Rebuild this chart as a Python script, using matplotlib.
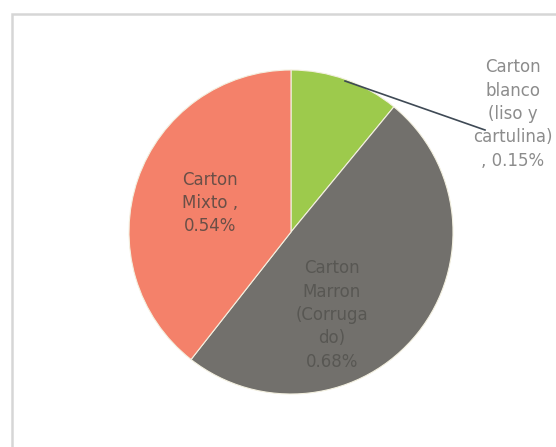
import matplotlib
matplotlib.use("Agg")
import matplotlib.pyplot as plt
from matplotlib.patches import Rectangle

categories = ["Carton\nblanco\n(liso y\ncartulina)\n, 0.15%",
              "Carton\nMarron\n(Corruga\ndo)\n0.68%",
              "Carton\nMixto ,\n0.54%"]
values = [0.15, 0.68, 0.54]
colors = ["#9dca4c", "#72706c", "#f4816a"]

W, H = 556, 447
fig = plt.figure(figsize=(W / 100, H / 100), dpi=100)
ax = fig.add_axes([0, 0, 1, 1])

# frame
ax.add_patch(Rectangle((12, -10), W, H - 14 + 10, fill=False,
                       edgecolor="#d6d6d6", linewidth=1.8))

cx, cy, r = 291, H - 232, 162
wedges, _ = ax.pie(values, colors=colors, startangle=90, counterclock=False,
                   center=(cx, cy), radius=r, frame=True,
                   wedgeprops=dict(edgecolor="#f3f0e0", linewidth=0.8))
ax.set_xlim(0, W)
ax.set_ylim(0, H)
ax.axis("off")
ax.set_aspect("equal")

font = dict(family=["DejaVu Sans"], fontsize=12, ha="center",
            va="center", linespacing=1.38)

ax.text(210, H - 203, categories[2], color="#6a4f47", **font)
ax.text(332, H - 315, categories[1], color="#585753", **font)
ax.text(513, H - 114, categories[0], color="#8c8c8c", **font)

# leader line
ax.plot([345, 485], [H - 81, H - 130], color="#3f4a55", linewidth=1.2)

fig.savefig("out.png", dpi=100)
